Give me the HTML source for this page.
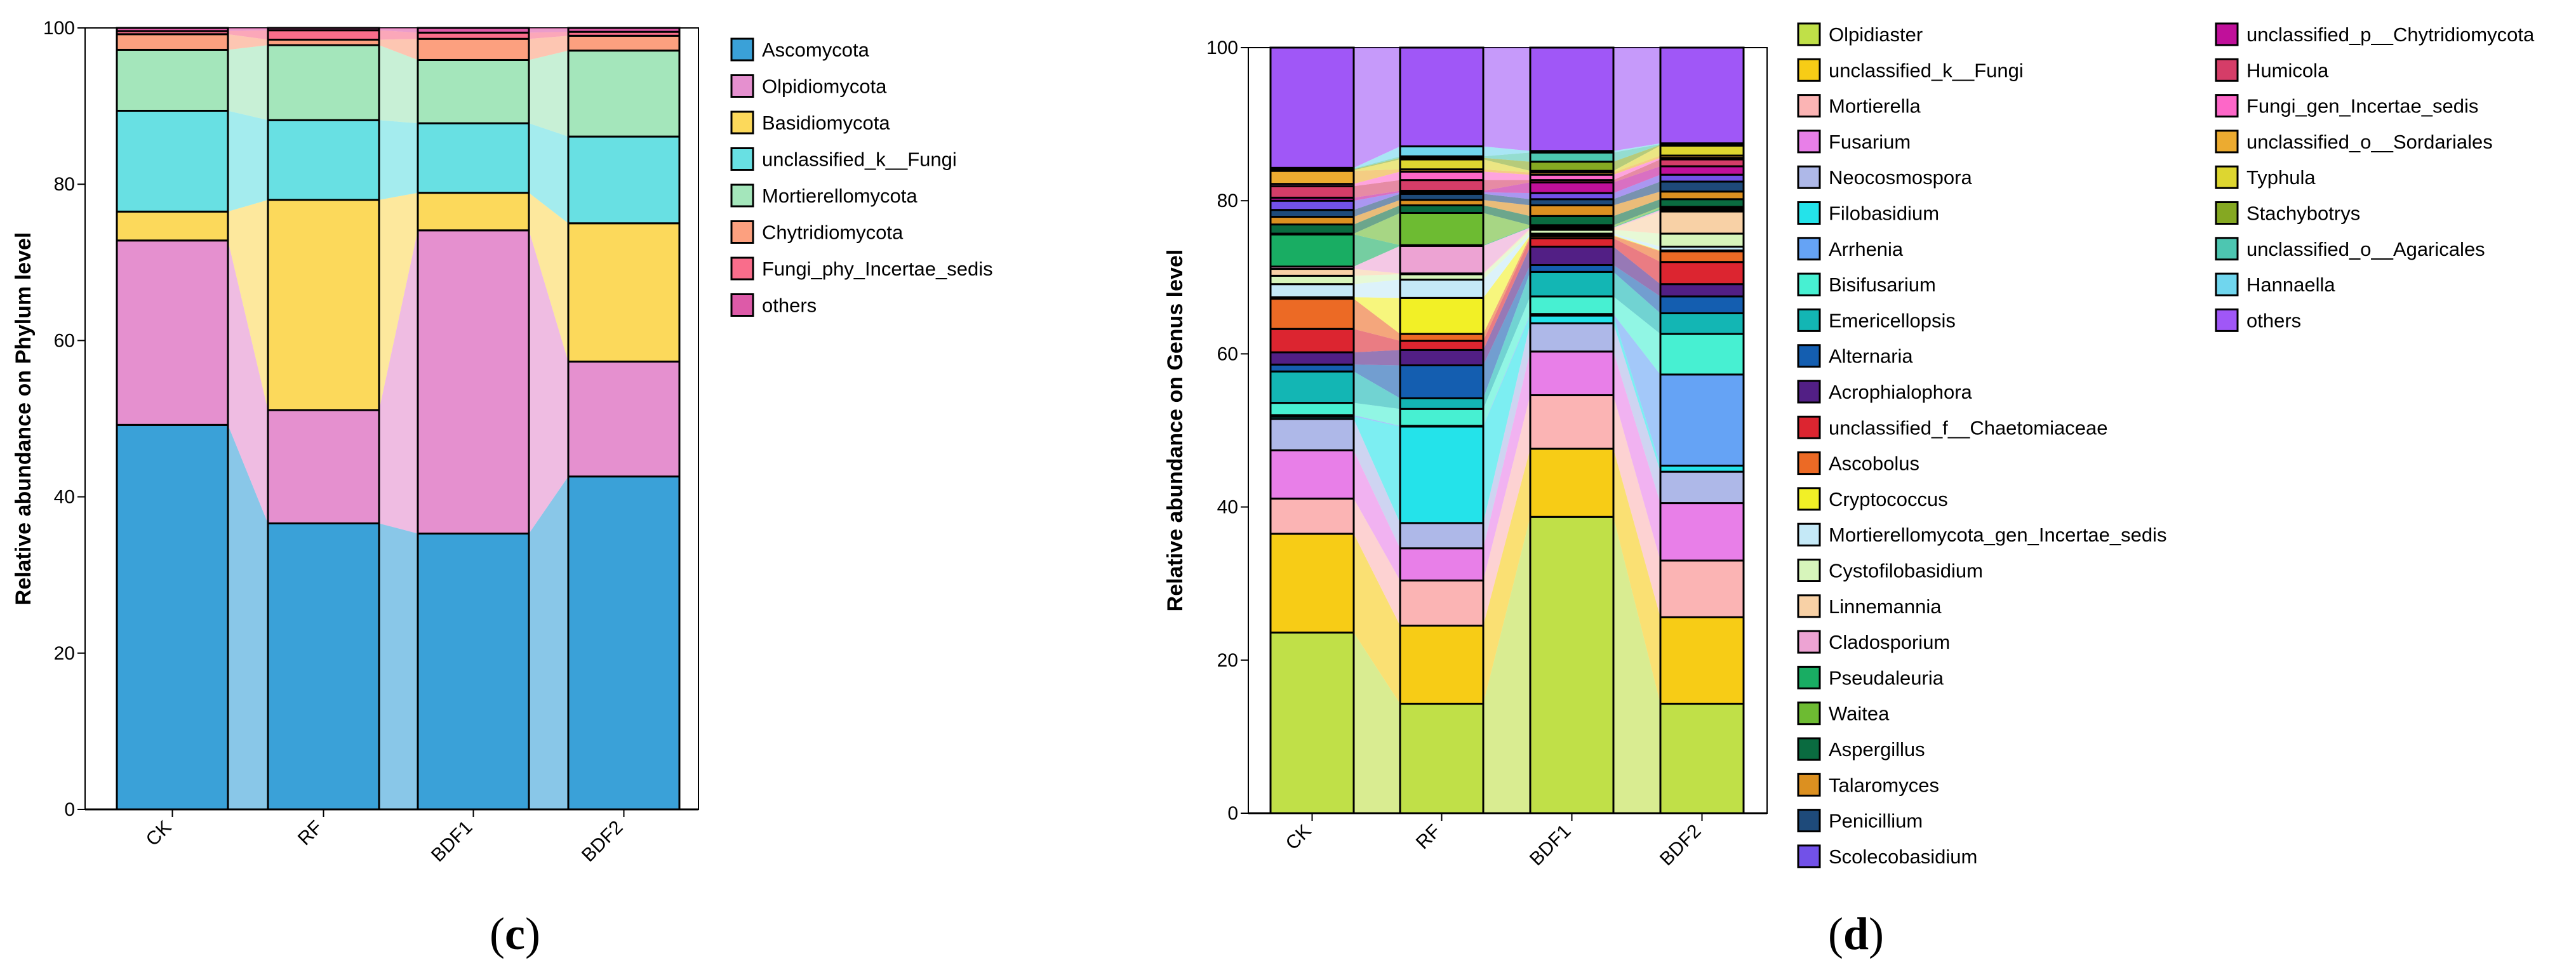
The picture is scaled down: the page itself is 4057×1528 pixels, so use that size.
<!DOCTYPE html>
<html><head><meta charset="utf-8"><style>
html,body{margin:0;padding:0;background:#fff;}
svg{display:block;font-family:"Liberation Sans",Arial,sans-serif;}
</style></head><body>
<svg id="fig" width="4057" height="1528" viewBox="0 0 4057 1528" xmlns="http://www.w3.org/2000/svg">
<g id="chartC"></g>
<g id="chartD"></g>
<text x="811" y="1495" font-family="Liberation Serif,serif" font-size="72" text-anchor="middle">(<tspan font-weight="bold">c</tspan>)</text>
<text x="2923" y="1495" font-family="Liberation Serif,serif" font-size="72" text-anchor="middle">(<tspan font-weight="bold">d</tspan>)</text>
</svg>
<script>
const NS="http://www.w3.org/2000/svg";
const samples=["CK","RF","BDF1","BDF2"];
const yTicks=[0,20,40,60,80,100];
const phylumNames=["Ascomycota","Olpidiomycota","Basidiomycota","unclassified_k__Fungi","Mortierellomycota","Chytridiomycota","Fungi_phy_Incertae_sedis","others"];
const phylumColors=["#3aa1d8","#e590cf","#fcd95b","#68e0e3","#a4e6bb","#fca07f","#f96d8b","#dd5aa8"];
const phylumCK=[49.2,23.6,3.7,12.9,7.8,2.0,0.4,0.4];
const phylumRF=[36.6,14.5,26.9,10.2,9.6,0.7,1.2,0.3];
const phylumBDF1=[35.3,38.8,4.8,8.9,8.1,2.7,0.8,0.6];
const phylumBDF2=[42.6,14.7,17.7,11.1,11.0,1.9,0.5,0.5];

const genusNames=["Olpidiaster","unclassified_k__Fungi","Mortierella","Fusarium","Neocosmospora","Filobasidium","Arrhenia","Bisifusarium","Emericellopsis","Alternaria","Acrophialophora","unclassified_f__Chaetomiaceae","Ascobolus","Cryptococcus","Mortierellomycota_gen_Incertae_sedis","Cystofilobasidium","Linnemannia","Cladosporium","Pseudaleuria","Waitea","Aspergillus","Talaromyces","Penicillium","Scolecobasidium","unclassified_p__Chytridiomycota","Humicola","Fungi_gen_Incertae_sedis","unclassified_o__Sordariales","Typhula","Stachybotrys","unclassified_o__Agaricales","Hannaella","others"];
const genusColors=["#c0e048","#f7cc16","#fbb4b4","#e87fe8","#aeb8e8","#24e3ea","#65a3f5","#47f0d2","#13b6b4","#145eb0","#521f85","#dc2530","#ec6a25","#f2f026","#c5e9f7","#d7f5bb","#f8d1a6","#eda3d3","#19ad63","#6dbb32","#0a6b40","#dc9020","#1e4a7a","#7251e8","#c0109a","#d53d68","#fd67c8","#ecab30","#ddd630","#85a822","#4dc6b1","#70d6ee","#a057f7"];
const genusCK=[23.6,12.9,4.6,6.3,4.1,0.3,0.2,1.6,4.1,0.9,1.6,3.05,3.95,0.2,1.7,1.1,0.9,0.3,4.2,0.1,1.2,1.0,0.9,1.2,0.4,1.5,0.3,1.7,0.1,0.1,0.1,0.1,15.7];
const genusRF=[14.3,10.2,5.9,4.2,3.3,12.6,0.1,2.2,1.4,4.3,2.0,1.2,0.9,4.7,2.4,0.7,0.1,3.6,0.1,4.2,1.0,0.7,0.8,0.2,0.2,1.4,1.1,0.3,1.3,0.2,0.2,1.3,12.9];
const genusBDF1=[38.7,8.9,7.0,5.7,3.7,1.0,0.2,2.3,3.2,0.9,2.4,1.1,0.3,0.1,0.2,0.5,0.2,0.1,0.1,0.2,1.2,1.4,0.8,0.8,1.4,0.3,0.7,0.3,0.2,1.2,1.2,0.2,13.5];
const genusBDF2=[14.3,11.3,7.4,7.5,4.1,0.8,11.9,5.3,2.7,2.2,1.6,2.9,1.4,0.1,0.5,1.7,2.9,0.2,0.2,0.2,1.0,1.0,1.3,0.9,1.1,0.9,0.2,0.3,1.3,0.1,0.1,0.1,12.5];

function mk(parent,tag,attrs){const e=document.createElementNS(NS,tag);for(const k in attrs)e.setAttribute(k,attrs[k]);parent.appendChild(e);return e;}

function drawChart(g,cfg){
  const y=v=>cfg.y0-(v/100)*(cfg.y0-cfg.y100);
  const series=cfg.series;
  const frame=mk(g,"rect",{x:cfg.left,y:cfg.y100,width:cfg.right-cfg.left,height:cfg.y0-cfg.y100,fill:"none",stroke:"#000","stroke-width":2});
  
  
  const cums=series.map(s=>{let c=0;return s.map(v=>{const a=c;c+=v;return [a,c];});});
  for(let i=0;i<samples.length-1;i++){
    const xa=cfg.bars[i]+cfg.bw, xb=cfg.bars[i+1];
    for(let k=0;k<cfg.names.length;k++){
      const a=cums[i][k], b=cums[i+1][k];
      const p=mk(g,"polygon",{points:`${xa},${y(a[0])} ${xa},${y(a[1])} ${xb},${y(b[1])} ${xb},${y(b[0])}`,fill:cfg.colors[k],"fill-opacity":0.6});
      
      
    }
  }
  for(let i=0;i<samples.length;i++){
    for(let k=0;k<cfg.names.length;k++){
      const c=cums[i][k];
      const r=mk(g,"rect",{x:cfg.bars[i],y:y(c[1]),width:cfg.bw,height:Math.max(0,y(c[0])-y(c[1])),fill:cfg.colors[k],stroke:"#000","stroke-width":cfg.sw});
      
      
    }
    const tx=cfg.bars[i]+cfg.bw/2;
    mk(g,"line",{x1:tx,y1:cfg.y0,x2:tx,y2:cfg.y0+12,stroke:"#000","stroke-width":2});
    const t=mk(g,"text",{x:tx,y:cfg.y0+30,"font-size":30,"text-anchor":"end",transform:`rotate(-45 ${tx} ${cfg.y0+30})`});
    t.textContent=samples[i];
    
    
  }
  mk(g,"line",{x1:cfg.left,y1:cfg.y100,x2:cfg.left,y2:cfg.y0,stroke:"#000","stroke-width":2});
  mk(g,"line",{x1:cfg.left,y1:cfg.y0,x2:cfg.right,y2:cfg.y0,stroke:"#000","stroke-width":3});
  yTicks.forEach(v=>{
    mk(g,"line",{x1:cfg.left-12,y1:y(v),x2:cfg.left,y2:y(v),stroke:"#000","stroke-width":2});
    const t=mk(g,"text",{x:cfg.left-16,y:y(v)+10,"font-size":30,"text-anchor":"end"});
    t.textContent=v;
    
    
  });
  const ty=(cfg.y0+cfg.y100)/2;
  const tt=mk(g,"text",{x:cfg.titleX,y:ty,"font-size":34,"font-weight":"bold","text-anchor":"middle",transform:`rotate(-90 ${cfg.titleX} ${ty})`});
  tt.textContent=cfg.title;
  
  
  cfg.names.forEach((n,k)=>{
    const col=k<cfg.perCol?0:1, row=k<cfg.perCol?k:k-cfg.perCol;
    const lx=cfg.legX[col], ly=cfg.legY+row*cfg.legStep[col];
    const lg=mk(g,"g",{});
    
    
    mk(lg,"rect",{x:lx,y:ly-17,width:34,height:34,fill:cfg.colors[k],stroke:"#000","stroke-width":3});
    const t=mk(lg,"text",{x:lx+48,y:ly+11,"font-size":31});
    t.textContent=n;
  });
}

drawChart(document.getElementById("chartC"),{
  names:phylumNames,colors:phylumColors,series:[phylumCK,phylumRF,phylumBDF1,phylumBDF2],
  left:134,right:1100,y100:44,y0:1275,bars:[184,422,658,895],bw:175,sw:3,
  titleX:48,title:"Relative abundance on Phylum level",
  perCol:99,legX:[1152],legY:78,legStep:[57.5]
});
drawChart(document.getElementById("chartD"),{
  names:genusNames,colors:genusColors,series:[genusCK,genusRF,genusBDF1,genusBDF2],
  left:1966,right:2783,y100:75,y0:1281,bars:[2001,2205,2410,2615],bw:131,sw:3,
  titleX:1862,title:"Relative abundance on Genus level",
  perCol:24,legX:[2832,3490],legY:54,legStep:[56.3,56.3]
});
</script>
</body></html>
